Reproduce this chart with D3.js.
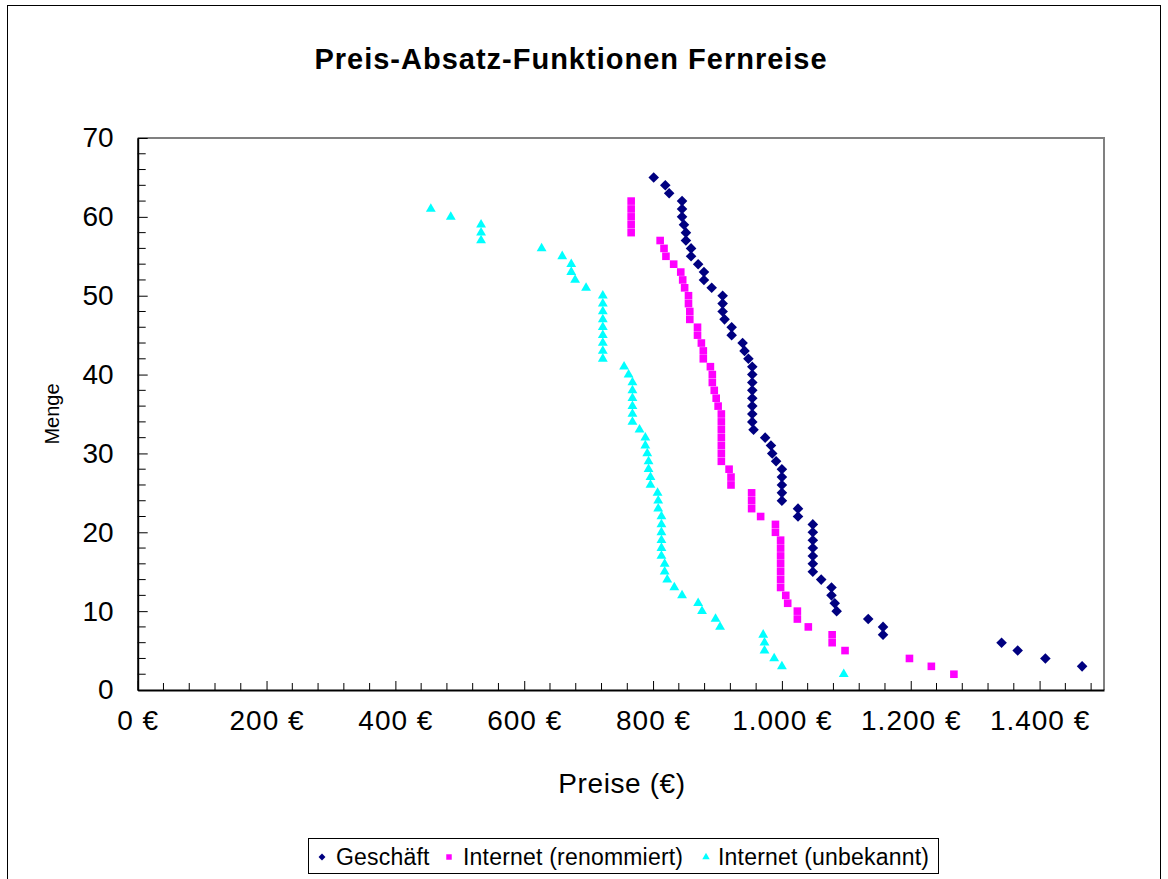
<!DOCTYPE html>
<html>
<head>
<meta charset="utf-8">
<script src="https://cdn.jsdelivr.net/npm/d3@7/dist/d3.min.js"></script>
<style>
html,body{margin:0;padding:0;background:#fff;}
svg{display:block;font-family:"Liberation Sans",Arial,sans-serif;}
</style>
</head>
<body>
<svg id="chart" width="1168" height="879"></svg>
<script>
// ---- Data ----
const seriesNames = ["Geschäft", "Internet (renommiert)", "Internet (unbekannt)"];

const geschaeftMenge = [65,64,63,62,61,60,59,58,57,56,55,54,53,52,51,50,49,48,47,46,45,44,43,42,41,40,39,38,37,36,35,34,33,32,31,30,29,28,27,26,25,24,23,22,21,20,19,18,17,16,15,14,13,12,11,10,9,8,7,6,5,4,3];
const geschaeftPreis = [801,819,825,845,845,845,848,851,851,859,859,870,879,879,891,908,908,908,911,922,922,939,942,948,954,954,954,954,954,954,954,954,956,974,983,985,991,1000,1000,1000,1000,1000,1025,1025,1048,1048,1048,1048,1048,1048,1048,1061,1077,1077,1082,1085,1134,1157,1157,1341,1366,1409,1466];

const renommiertMenge = [62,61,60,59,58,57,56,55,54,53,52,51,50,49,48,47,46,45,44,43,42,41,40,39,38,37,36,35,34,33,32,31,30,29,28,27,26,25,24,23,22,21,20,19,18,17,16,15,14,13,12,11,10,9,8,7,6,5,4,3,2];
const renommiertPreis = [766,766,766,766,766,811,817,820,832,843,846,849,855,855,857,857,869,869,875,878,878,889,892,892,895,898,901,906,906,906,906,906,906,906,918,921,921,953,953,953,967,990,990,998,998,998,998,998,998,998,1006,1009,1024,1024,1041,1078,1078,1098,1198,1232,1267];

const unbekanntMenge = [61,60,59,58,57,56,55,54,53,52,51,50,49,48,47,46,45,44,43,42,41,40,39,38,37,36,35,34,33,32,31,30,29,28,27,26,25,24,23,22,21,20,19,18,17,16,15,14,13,12,11,10,9,8,7,6,5,4,3,2];
const unbekanntPreis = [455,486,533,533,533,627,659,673,673,679,696,722,722,722,722,722,722,722,722,722,755,762,768,768,768,768,768,768,779,788,788,791,793,793,796,796,807,808,808,813,813,813,813,813,813,818,818,822,833,845,870,876,897,904,971,973,973,988,1000,1096];

const xTickValues = [0,200,400,600,800,1000,1200,1400];
const yTickValues = [0,10,20,30,40,50,60,70];

const titleText = "Preis-Absatz-Funktionen Fernreise";
const xTitle = "Preise (€)";
const yTitle = "Menge";

// ---- Layout ----
const svg = d3.select("#chart");
const L = 137.7, R = 1104, T = 138, B = 690;
const x = d3.scaleLinear().domain([0,1500]).range([L,R]);
const y = d3.scaleLinear().domain([0,70]).range([B,T]);

const de = d3.formatLocale({decimal:",", thousands:".", grouping:[3], currency:["","\u00a0€"]});
const fmt = de.format("$,");

// outer border
svg.append("rect").attr("x",7.5).attr("y",5.5).attr("width",1153).attr("height",900)
  .attr("fill","none").attr("stroke","#000").attr("stroke-width",1);

// plot area border (gray)
svg.append("path").attr("d",`M${L},${T}H${R}V${B}`).attr("fill","none").attr("stroke","#808080").attr("stroke-width",2);

// axes
const xAxis = d3.axisBottom(x).tickValues(xTickValues).tickFormat(fmt).tickSizeInner(-9).tickSizeOuter(0).tickPadding(20);
const gx = svg.append("g").attr("transform",`translate(0,${B})`).call(xAxis);
const yAxis = d3.axisLeft(y).tickValues(yTickValues).tickFormat(d3.format("d")).tickSizeInner(-10).tickSizeOuter(0).tickPadding(24);
const gy = svg.append("g").attr("transform",`translate(${L},0)`).call(yAxis);

// minor ticks
gx.selectAll(".minor").data(d3.range(0,1500,40).filter(v=>v%200!==0)).enter().append("line")
  .attr("x1",d=>x(d)).attr("x2",d=>x(d)).attr("y1",0).attr("y2",-7).attr("stroke","#000");
gy.selectAll(".minor").data(d3.range(0,71,2).filter(v=>v%10!==0)).enter().append("line")
  .attr("y1",d=>y(d)).attr("y2",d=>y(d)).attr("x1",0).attr("x2",8).attr("stroke","#000");

[gx,gy].forEach(g=>{
  g.select(".domain").attr("stroke","#000").attr("stroke-width",2);
  g.selectAll(".tick line").attr("stroke","#000");
  g.selectAll("text").attr("font-size",28).attr("fill","#000").attr("font-family","Liberation Sans, Arial, sans-serif");
});
gx.selectAll("text").attr("letter-spacing",1);

// titles
svg.append("text").attr("x",571).attr("y",69).attr("text-anchor","middle")
  .attr("font-size",29).attr("font-weight","bold").attr("letter-spacing",1).text(titleText);
svg.append("text").attr("x",622).attr("y",793).attr("text-anchor","middle")
  .attr("font-size",28).attr("letter-spacing",0.6).text(xTitle);
svg.append("text").attr("transform","translate(59,414) rotate(-90)").attr("text-anchor","middle")
  .attr("font-size",20).text(yTitle);

// markers
const diamond = d3.symbol(d3.symbolSquare, 56)();
const square = d3.symbol(d3.symbolSquare, 58)();
const triangle = d3.symbol(d3.symbolTriangle, 42)();

const series = [
  {name:seriesNames[0], px:geschaeftPreis, qy:geschaeftMenge, color:"#000080", path:diamond, rot:45},
  {name:seriesNames[1], px:renommiertPreis, qy:renommiertMenge, color:"#FF00FF", path:square, rot:0},
  {name:seriesNames[2], px:unbekanntPreis, qy:unbekanntMenge, color:"#00FFFF", path:triangle, rot:0}
];

series.slice().reverse().forEach(s=>{
  svg.append("g").selectAll("path").data(s.px.map((p,i)=>({p, m:s.qy[i]}))).enter().append("path")
    .attr("d",s.path).attr("fill",s.color)
    .attr("transform",d=>`translate(${x(d.p)},${y(d.m)}) rotate(${s.rot})`);
});

// legend
const lg = svg.append("g");
lg.append("rect").attr("x",308.5).attr("y",838.5).attr("width",630).attr("height",35)
  .attr("fill","#fff").attr("stroke","#000").attr("stroke-width",1);
const legendItems = [
  {x:322, tx:336, path:d3.symbol(d3.symbolSquare,24)(), rot:45},
  {x:449, tx:463, path:d3.symbol(d3.symbolSquare,30)(), rot:0},
  {x:706, tx:718, path:d3.symbol(d3.symbolTriangle,24)(), rot:0}
];
legendItems.forEach((it,i)=>{
  lg.append("path").attr("d",it.path).attr("fill",series[i].color)
    .attr("transform",`translate(${it.x},857) rotate(${it.rot})`);
  lg.append("text").attr("x",it.tx).attr("y",865).attr("font-size",23).attr("letter-spacing",0.2).text(series[i].name);
});
</script>
</body>
</html>
